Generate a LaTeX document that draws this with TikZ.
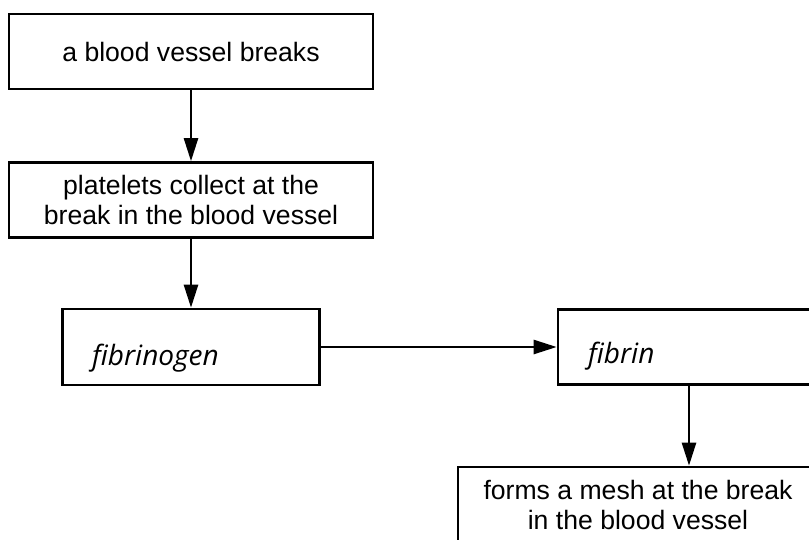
\documentclass[tikz,border=0pt]{standalone}
\usepackage{fontspec}
\setmainfont{Liberation Sans}
\newfontfamily\handfont{Open Sans}
\usetikzlibrary{arrows.meta}
\begin{document}
\begin{tikzpicture}[x=1pt,y=-1pt,
  box/.style={draw=black,line width=2.6pt,fill=white,inner sep=0pt,align=center,
    font=\fontsize{26.6}{30}\selectfont},
  conn/.style={line width=2.4pt,-{Triangle[length=23pt,width=14pt]}},
  hand/.style={inner sep=0pt,anchor=base west,font=\handfont\itshape\fontsize{28}{30}\selectfont}]
\useasboundingbox (0,0) rectangle (809,539);
\clip (0,0) rectangle (809,539);
\fill[white] (0,0) rectangle (809,539);
\node[box,minimum width=364pt,minimum height=75pt] (b1) at (191,51.5) {a blood vessel breaks};
\node[box,minimum width=364pt,minimum height=75pt] (b2) at (191,200) {platelets collect at the\\break in the blood vessel};
\node[box,minimum width=257pt,minimum height=76pt] (b3) at (191,347) {};
\node[box,minimum width=262pt,minimum height=75pt] (b4) at (689,347) {};
\node[box,minimum width=360pt,minimum height=75pt] (b5) at (638,504.5) {forms a mesh at the break\\in the blood vessel};
\node[hand] (t3) at (92,365) {fibrinogen};
\node[hand] (t4) at (588,363) {fibrin};
\draw[conn] (b1) -- (b2);
\draw[conn] (b2) -- (b3);
\draw[conn] (b3) -- (b4);
\draw[conn] (b4.south) -- (b4.south |- b5.north);
\end{tikzpicture}
\end{document}
